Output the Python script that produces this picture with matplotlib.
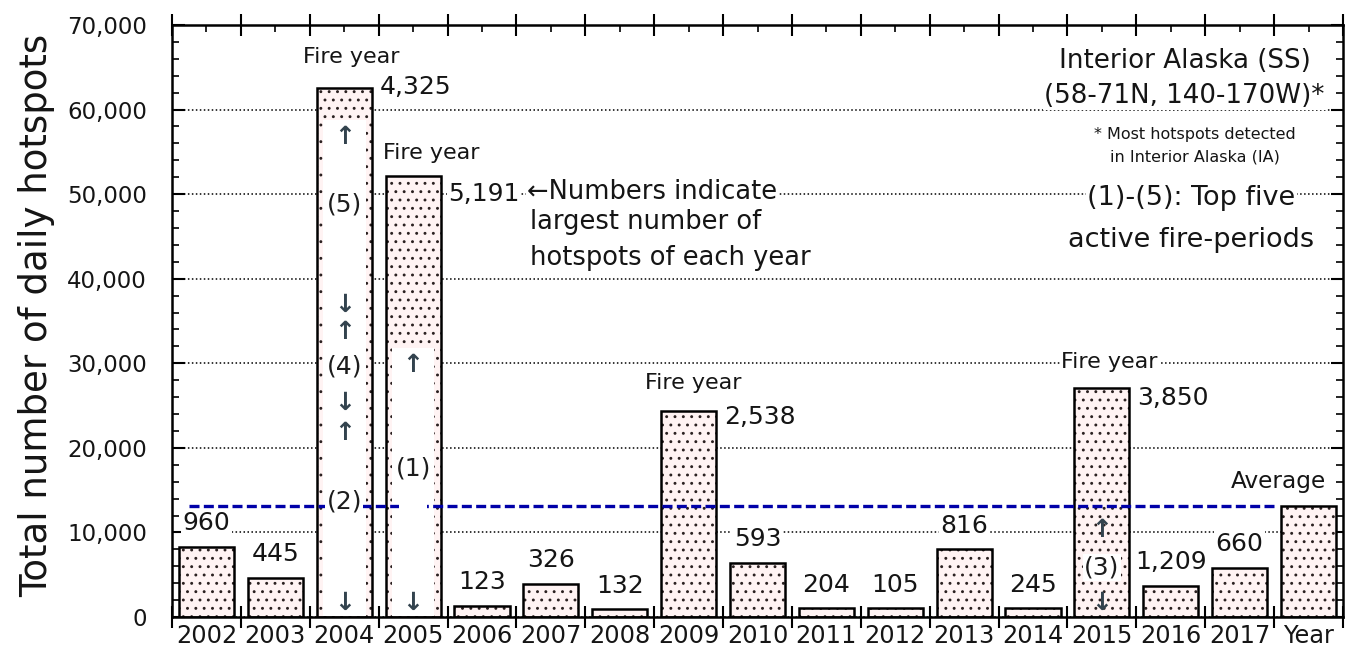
import numpy as np
import matplotlib
matplotlib.use("Agg")
import matplotlib.pyplot as plt
from matplotlib.patches import Rectangle
from matplotlib.ticker import MultipleLocator, FuncFormatter

# ---- data ----
years = ["2002", "2003", "2004", "2005", "2006", "2007", "2008", "2009",
         "2010", "2011", "2012", "2013", "2014", "2015", "2016", "2017", "Year"]
totals = [8300, 4600, 62500, 52100, 1300, 3900, 900, 24300,
          6400, 1050, 1050, 8000, 1050, 27100, 3700, 5800, 13100]
max_daily = ["960", "445", "4,325", "5,191", "123", "326", "132", "2,538",
             "593", "204", "105", "816", "245", "3,850", "1,209", "660", ""]
fire_years = ["2004", "2005", "2009", "2015"]
average = 13100

# active fire periods: (bar, y, text)
periods = [
    ("2004", 56800, "\u2191"), ("2004", 48800, "(5)"), ("2004", 36900, "\u2193"),
    ("2004", 33700, "\u2191"), ("2004", 29600, "(4)"), ("2004", 25300, "\u2193"),
    ("2004", 21800, "\u2191"), ("2004", 13600, "(2)"), ("2004", 1700, "\u2193"),
    ("2005", 29800, "\u2191"), ("2005", 17600, "(1)"), ("2005", 1700, "\u2193"),
    ("2015", 10300, "\u2191"), ("2015", 5900, "(3)"), ("2015", 1700, "\u2193"),
]
# white inner band of the two long bars (top of the band)
inner_top = {"2004": 58800, "2005": 31800}

# label offsets (points) for the max-daily numbers next to fire-year bars
side_offset = {"2004": 1, "2005": -13, "2009": -4, "2015": -7}
fire_label_y = {"2004": 66200, "2005": 54900, "2009": 27700, "2015": 30100}
fire_label_dx = {"2004": 0.1, "2005": 0.26, "2009": 0.06, "2015": 0.11}

WHITE = dict(facecolor="white", edgecolor="none", pad=1.0)
INK = "#151515"

plt.rcParams["hatch.linewidth"] = 0.9

fig = plt.figure(figsize=(13.53, 6.53), dpi=100)
ax = fig.add_axes([172 / 1353, 1 - 617 / 653, (1343 - 172) / 1353, (617 - 25) / 653])

x = np.arange(len(years))
# dotted fill (hatch takes the edge colour), then the black outline on top
ax.bar(x, totals, width=0.8, color="#fff3f3", edgecolor="#2a2020",
       linewidth=0, hatch="..", zorder=2)
ax.bar(x, totals, width=0.8, fill=False, edgecolor="black",
       linewidth=1.8, zorder=2.4)
ax.set_axisbelow(True)

for yr, top in inner_top.items():
    i = years.index(yr)
    ax.add_patch(Rectangle((i - 0.31, 150), 0.62, top - 150,
                           facecolor="white", edgecolor="none", zorder=2.2))

# average line
ax.hlines(average, -0.25, 15.5, colors="#0000a8", linestyles=(0, (3, 1.3)),
          linewidth=2.4, zorder=3)
# the 2005 inner band sits over the average line
i05 = years.index("2005")
ax.add_patch(Rectangle((i05 - 0.2, average - 600), 0.4, 1200,
                       facecolor="white", edgecolor="none", zorder=3.1))

# max-daily numbers
for i, (yr, lab, tot) in enumerate(zip(years, max_daily, totals)):
    if not lab:
        continue
    if yr in fire_years:
        ax.annotate(lab, (i + 0.47, tot), xytext=(2, side_offset[yr]),
                    textcoords="offset points", ha="left", va="center",
                    fontsize=18, color=INK, bbox=WHITE, zorder=5)
        ax.text(i + fire_label_dx[yr], fire_label_y[yr], "Fire year",
                ha="center", va="center", fontsize=16, color=INK,
                bbox=WHITE, zorder=5)
    else:
        ax.annotate(lab, (i, tot), xytext=(0, 17), textcoords="offset points",
                    ha="center", va="center", fontsize=18, color=INK,
                    bbox=WHITE, zorder=5)

for yr, yv, t in periods:
    i = years.index(yr)
    arrow = t in ("\u2191", "\u2193")
    ax.text(i, yv, t, ha="center", va="center",
            fontsize=18,
            color="#33434e" if arrow else "#1c1c1c",
            fontweight="bold" if arrow else "normal",
            bbox=WHITE if not arrow else None, zorder=5)

ax.text(4.66, 50300, "\u2190Numbers indicate", ha="left", va="center",
        fontsize=18.5, color=INK, bbox=WHITE, zorder=5)
ax.text(4.70, 46700, "largest number of", ha="left", va="center",
        fontsize=18.5, color=INK, bbox=WHITE, zorder=5)
ax.text(4.70, 42500, "hotspots of each year", ha="left", va="center",
        fontsize=18.5, color=INK, bbox=WHITE, zorder=5)

ax.text(14.2, 65700, "Interior Alaska (SS)", ha="center", va="center",
        fontsize=18.8, color=INK, bbox=WHITE, zorder=5)
ax.text(14.2, 61600, "(58-71N, 140-170W)*", ha="center", va="center",
        fontsize=18.8, color=INK, bbox=WHITE, zorder=5)
ax.text(14.35, 57000, "* Most hotspots detected", ha="center", va="center",
        fontsize=11.5, color=INK, bbox=WHITE, zorder=5)
ax.text(14.35, 54400, "in Interior Alaska (IA)", ha="center", va="center",
        fontsize=11.5, color=INK, bbox=WHITE, zorder=5)
ax.text(14.3, 49600, "(1)-(5): Top five", ha="center", va="center",
        fontsize=19.5, color=INK, bbox=WHITE, zorder=5)
ax.text(14.3, 44600, "active fire-periods", ha="center", va="center",
        fontsize=19.5, color=INK, bbox=WHITE, zorder=5)
ax.text(16.26, 16000, "Average", ha="right", va="center",
        fontsize=16.7, color=INK, bbox=WHITE, zorder=5)

# axes
ax.set_xlim(-0.5, len(years) - 0.5)
ax.set_ylim(0, 70000)
ax.set_xticks(np.arange(len(years) + 1) - 0.5)
ax.set_xticklabels([])
ax.set_xticks(x, minor=True)
ax.set_xticklabels(years, minor=True)
ax.tick_params(axis="x", which="major", direction="inout", length=16,
               width=1.5, top=True, bottom=True)
ax.tick_params(axis="x", which="minor", direction="in", length=5, width=1.2,
               top=True, bottom=True, labelsize=17.3, pad=5, labelcolor=INK)

ax.yaxis.set_major_locator(MultipleLocator(10000))
ax.yaxis.set_minor_locator(MultipleLocator(2000))
ax.yaxis.set_major_formatter(FuncFormatter(lambda v, p: f"{int(v):,}"))
ax.tick_params(axis="y", which="major", direction="in", length=9, width=1.5,
               left=True, right=True, labelsize=16.5, pad=18, labelcolor=INK)
ax.tick_params(axis="y", which="minor", direction="in", length=5, width=1.2,
               left=True, right=True)
ax.yaxis.grid(True, which="major", color="black", linestyle=(0, (1, 1.6)),
              linewidth=1.1)
for s in ax.spines.values():
    s.set_linewidth(1.8)

ax.set_ylabel("Total number of daily hotspots", fontsize=26.7, va="center",
              color=INK)
ax.yaxis.set_label_coords(-0.116, 0.51)

fig.savefig("out.png", dpi=100, facecolor="white")
